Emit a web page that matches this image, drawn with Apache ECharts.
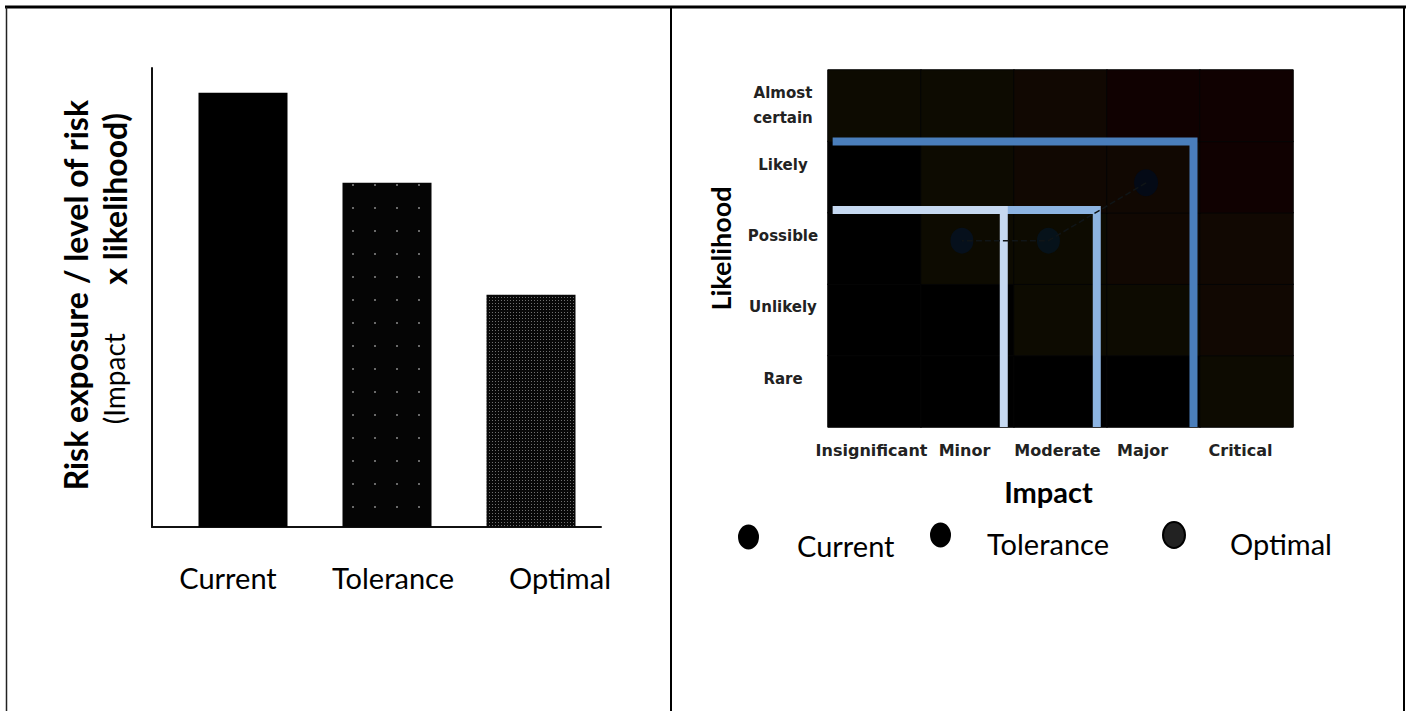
<!DOCTYPE html>
<html><head><meta charset="utf-8">
<script src="https://cdn.jsdelivr.net/npm/echarts@6/dist/echarts.min.js"></script>
<style>html,body{margin:0;padding:0;background:#fff}#c{width:1410px;height:711px}</style>
</head><body><div id="c"></div>
<script>
// ---------- data ----------
const barCategories = ['Current', 'Tolerance', 'Optimal'];
const barValues = [94.6, 75, 50.6];
const impactLabels = ['Insignificant', 'Minor', 'Moderate', 'Major', 'Critical'];
const likelihoodLabels = ['Rare', 'Unlikely', 'Possible', 'Likely', 'Almost\ncertain'];
// risk level of each cell, rows from Rare (bottom) to Almost certain (top)
const riskRare          = [0, 0, 0, 0, 1];
const riskUnlikely      = [0, 0, 1, 1, 2];
const riskPossible      = [0, 1, 1, 2, 2];
const riskLikely        = [0, 1, 2, 2, 3];
const riskAlmostCertain = [1, 1, 2, 3, 3];
// boundary lines (impact, likelihood) in cell units
const outerLine  = [[0.05, 4.0], [3.93, 4.0], [3.93, 0]];
const middleLine = [[1.89, 3.04], [2.89, 3.04], [2.89, 0]];
const innerLine  = [[0.05, 3.04], [1.89, 3.04], [1.89, 0]];
// positions (impact, likelihood)
const currentPoint   = [3.42, 3.42];
const tolerancePoint = [2.37, 2.61];
const optimalPoint   = [1.44, 2.61];

// ---------- build ----------
const riskRows = [riskRare, riskUnlikely, riskPossible, riskLikely, riskAlmostCertain];
const heatData = [];
riskRows.forEach((row, r) => row.forEach((v, c) => heatData.push([c, r, v])));

const ellipse = 'path://M11,0 A11,13 0 1,1 11,26 A11,13 0 1,1 11,0 Z';
const LATO = 'Lato';
const DJV = 'DejaVu Sans';

const barLabelShift = [[0, 30, 0, 0], [0, 0, 0, 12], [0, 0, 0, 58]];
const impactLabelShift = [[0, 6, 0, 0], [0, 6, 0, 0], [0, 6, 0, 0], [0, 22, 0, 0], [0, 12, 0, 0]];

function legendCfg(name, left, top, w, h, padLeft, style) {
  return {
    data: [{name: name, icon: ellipse, itemStyle: style}],
    left: left, top: top, padding: 0, itemWidth: w, itemHeight: h, selectedMode: false,
    formatter: n => '{s|}\n{t|' + n + '}',
    textStyle: {fontSize: 29, fontFamily: LATO, color: '#000', padding: [0, 0, 0, padLeft],
                rich: {s: {lineHeight: 16, fontSize: 10}, t: {lineHeight: 34, fontSize: 29, fontFamily: LATO, color: '#000'}}}
  };
}

const chart = echarts.init(document.getElementById('c'), null, {renderer: 'svg'});
chart.setOption({
  animation: false,
  backgroundColor: '#fff',
  textStyle: {fontFamily: LATO},
  grid: [
    {left: 171, right: 807, top: 68, bottom: 184},
    {left: 152, right: 809, top: 68, bottom: 184},
    {left: 828, right: 117, top: 70, bottom: 284},
    {left: 828, right: 117, top: 70, bottom: 284}
  ],
  xAxis: [
    {gridIndex: 0, type: 'category',
     data: barCategories.map((c, i) => ({value: c, textStyle: {padding: barLabelShift[i]}})),
     axisLine: {show: false}, axisTick: {show: false},
     axisLabel: {interval: 0, fontSize: 29, fontFamily: LATO, color: '#000', margin: 36}},
    {gridIndex: 1, type: 'value', min: 0, max: 1,
     axisLine: {show: true, onZero: false, lineStyle: {color: '#111', width: 2}},
     axisTick: {show: false}, axisLabel: {show: false}, splitLine: {show: false}},
    {gridIndex: 2, type: 'category',
     data: impactLabels.map((c, i) => ({value: c, textStyle: {padding: impactLabelShift[i]}})),
     name: 'Impact', nameLocation: 'middle', nameGap: 50,
     nameTextStyle: {fontSize: 29, fontWeight: 'bold', fontFamily: LATO, color: '#000', padding: [0, 24, 0, 0]},
     axisLine: {show: false}, axisTick: {show: false}, splitLine: {show: false},
     axisLabel: {interval: 0, fontSize: 16, fontWeight: 'bold', fontFamily: DJV, color: '#222', margin: 15}},
    {gridIndex: 3, type: 'value', min: 0, max: 5, show: false}
  ],
  yAxis: [
    {gridIndex: 0, type: 'value', min: 0, max: 100, show: false},
    {gridIndex: 1, type: 'value', min: 0, max: 1,
     axisLine: {show: true, onZero: false, lineStyle: {color: '#111', width: 2}},
     axisTick: {show: false}, axisLabel: {show: false}, splitLine: {show: false}},
    {gridIndex: 2, type: 'category', data: likelihoodLabels,
     name: 'Likelihood', nameLocation: 'middle', nameGap: 79, nameRotate: 90,
     nameTextStyle: {fontSize: 27, fontWeight: 'bold', fontFamily: LATO, color: '#000'},
     axisLine: {show: false}, axisTick: {show: false}, splitLine: {show: false},
     axisLabel: {interval: 0, margin: 0,
       formatter: v => v.indexOf('\n') >= 0
         ? v.split('\n').map(p => '{c|' + p + '}').join('\n')
         : '{c|' + v + '}\n{c| }',
       rich: {c: {width: 90, align: 'center', lineHeight: 25, fontSize: 15, fontWeight: 'bold',
                  fontFamily: DJV, color: '#222'}}}},
    {gridIndex: 3, type: 'value', min: 0, max: 5, show: false}
  ],
  visualMap: {
    type: 'piecewise', show: false, seriesIndex: 1, dimension: 2,
    pieces: [
      {value: 0, color: '#000000'},
      {value: 1, color: '#0d0b01'},
      {value: 2, color: '#110802'},
      {value: 3, color: '#100101'}
    ]
  },
  legend: [
    legendCfg('Current', 738, 515, 21, 30, 33, {color: '#000', opacity: 1, borderWidth: 0}),
    legendCfg('Tolerance', 930, 513, 21, 30, 31, {color: '#000', opacity: 1, borderWidth: 0}),
    legendCfg('Optimal', 1162, 513, 22, 27, 40, {color: '#222', opacity: 1, borderColor: '#000', borderWidth: 2})
  ],
  graphic: [
    {type: 'line', shape: {x1: 5, y1: 7, x2: 1406, y2: 7}, style: {stroke: '#000', lineWidth: 3}},
    {type: 'line', shape: {x1: 6.5, y1: 7, x2: 6.5, y2: 711}, style: {stroke: '#222', lineWidth: 1.5}},
    {type: 'line', shape: {x1: 671, y1: 7, x2: 671, y2: 711}, style: {stroke: '#000', lineWidth: 2}},
    {type: 'line', shape: {x1: 1404, y1: 7, x2: 1404, y2: 711}, style: {stroke: '#000', lineWidth: 2}},
    {type: 'text', x: 75, y: 100, rotation: Math.PI / 2,
     style: {text: 'Risk exposure / level of risk', fontFamily: LATO, fontSize: 32, fontWeight: 'bold',
             fill: '#000', align: 'right', verticalAlign: 'middle'}},
    {type: 'text', x: 114, y: 113, rotation: Math.PI / 2,
     style: {text: '{a|(Impact}       {b|x likelihood)}', fontFamily: LATO, fontSize: 27, fill: '#000',
             align: 'right', verticalAlign: 'middle',
             rich: {a: {fontSize: 28, fontWeight: 'normal', fontFamily: LATO},
                    b: {fontSize: 32, fontWeight: 'bold', fontFamily: LATO}}}}
  ],
  series: [
    {type: 'bar', xAxisIndex: 0, yAxisIndex: 0, barWidth: 89,
     data: [
       {value: barValues[0], itemStyle: {color: '#000'}},
       {value: barValues[1], itemStyle: {color: '#050505',
         decal: {symbol: 'rect', symbolSize: 1, color: 'rgba(255,255,255,0.4)',
                 dashArrayX: [[1.5, 20]], dashArrayY: [1.5, 21], rotation: 0}}},
       {value: barValues[2], itemStyle: {color: '#080808',
         decal: {symbol: 'rect', symbolSize: 1, color: 'rgba(255,255,255,0.42)',
                 dashArrayX: [[1, 2]], dashArrayY: [1, 2], rotation: 0}}}
     ]},
    {type: 'heatmap', xAxisIndex: 2, yAxisIndex: 2, data: heatData,
     itemStyle: {borderColor: '#050505', borderWidth: 1}},
    {type: 'line', name: 'outer', xAxisIndex: 3, yAxisIndex: 3, data: outerLine, symbol: 'none',
     lineStyle: {color: '#4a7ebb', width: 8, cap: 'butt', join: 'miter'}},
    {type: 'line', name: 'middle', xAxisIndex: 3, yAxisIndex: 3, data: middleLine, symbol: 'none',
     lineStyle: {color: '#8db4e2', width: 8, cap: 'butt', join: 'miter'}},
    {type: 'line', name: 'inner', xAxisIndex: 3, yAxisIndex: 3, data: innerLine, symbol: 'none',
     lineStyle: {color: '#c6d9f1', width: 8, cap: 'butt', join: 'miter'}},
    {type: 'line', name: 'path', xAxisIndex: 3, yAxisIndex: 3,
     data: [currentPoint, tolerancePoint, optimalPoint], symbol: 'none',
     lineStyle: {color: '#101517', width: 1.5, type: 'dashed'}},
    {type: 'scatter', name: 'Current', xAxisIndex: 3, yAxisIndex: 3, data: [currentPoint],
     symbol: ellipse, symbolSize: [24, 27], itemStyle: {color: '#040a16', opacity: 1}},
    {type: 'scatter', name: 'Tolerance', xAxisIndex: 3, yAxisIndex: 3, data: [tolerancePoint],
     symbol: ellipse, symbolSize: [23, 26], itemStyle: {color: '#06121a', opacity: 1}},
    {type: 'scatter', name: 'Optimal', xAxisIndex: 3, yAxisIndex: 3, data: [optimalPoint],
     symbol: ellipse, symbolSize: [23, 26], itemStyle: {color: '#06101c', opacity: 1}}
  ]
});
</script></body></html>
